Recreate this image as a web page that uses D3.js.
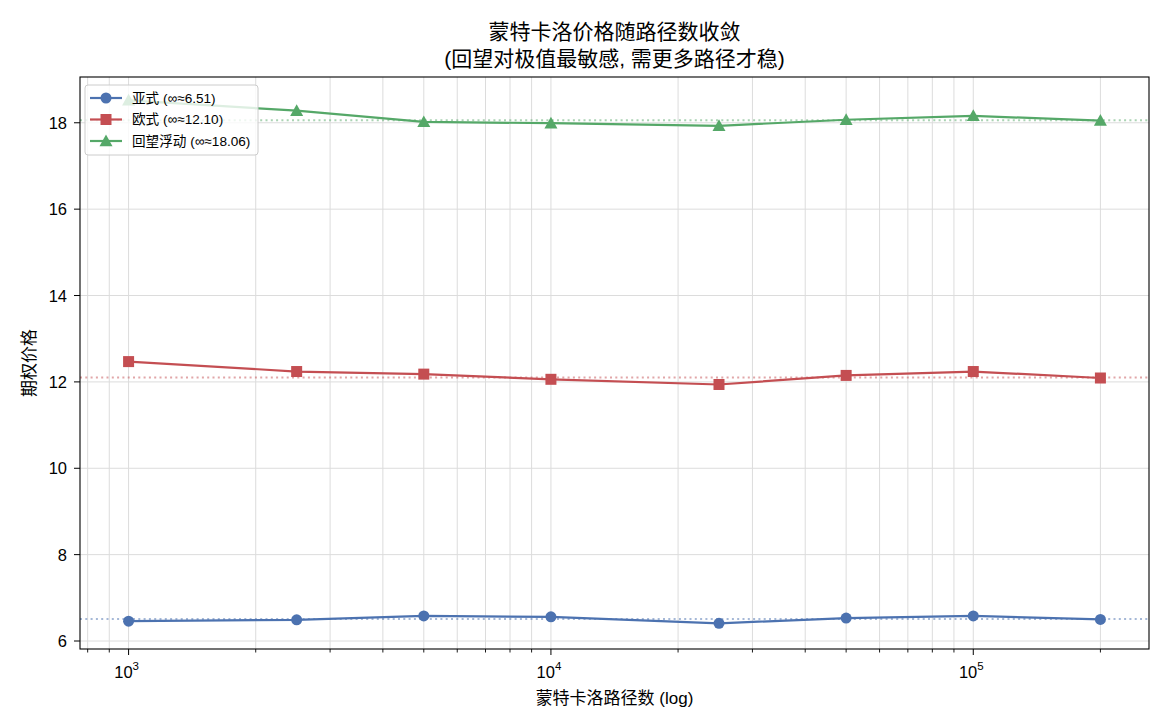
<!DOCTYPE html>
<html>
<head>
<meta charset="utf-8">
<script src="https://cdn.jsdelivr.net/npm/d3@7"></script>
<style>
  body { margin: 0; background: #fff; }
  text { font-family: "Liberation Sans", Arial, "Noto Sans CJK SC", sans-serif; }
</style>
</head>
<body>
<div id="chart"></div>
<script>
// path counts and prices
const paths = [1000, 2500, 5000, 10000, 25000, 50000, 100000, 200000];
const asianPrices = [6.46, 6.49, 6.58, 6.56, 6.41, 6.53, 6.58, 6.50];
const euroPrices = [12.47, 12.24, 12.18, 12.06, 11.94, 12.15, 12.24, 12.09];
const lookbackPrices = [18.52, 18.28, 18.02, 17.99, 17.93, 18.07, 18.16, 18.05];
const seriesNames = ["亚式 (∞≈6.51)", "欧式 (∞≈12.10)", "回望浮动 (∞≈18.06)"];
const limitValues = [6.51, 12.10, 18.06];
const seriesColors = ["#4c72b0", "#c44e52", "#55a868"];
const seriesMarkers = ["circle", "square", "triangle"];
const yTicks = [6, 8, 10, 12, 14, 16, 18];
const xMajorTicks = [1000, 10000, 100000];

const width = 1170, height = 728;
const margin = { left: 80, right: 21, top: 77, bottom: 79 };

const svg = d3.select("#chart").append("svg")
    .attr("width", width)
    .attr("height", height);

// log axis with matplotlib style 5% padding
const lo = Math.log10(d3.min(paths)), hi = Math.log10(d3.max(paths));
const pad = (hi - lo) * 0.05;
const x = d3.scaleLog()
    .domain([Math.pow(10, lo - pad), Math.pow(10, hi + pad)])
    .range([margin.left, width - margin.right]);

const y = d3.scaleLinear()
    .domain([5.815, 19.06])
    .range([height - margin.bottom, margin.top]);

const x0 = margin.left, x1 = width - margin.right;
const y0 = height - margin.bottom, y1 = margin.top;

// minor ticks for the log axis
const minorTicks = [];
for (let e = 2; e <= 5; e++) {
    for (let m = 2; m <= 9; m++) {
        const v = m * Math.pow(10, e);
        if (v > x.domain()[0] && v < x.domain()[1]) minorTicks.push(v);
    }
}

// grid
const grid = svg.append("g").attr("class", "grid");
grid.selectAll(".xminor")
    .data(minorTicks.concat(xMajorTicks))
    .enter()
    .append("line")
    .attr("x1", d => x(d)).attr("x2", d => x(d))
    .attr("y1", y0).attr("y2", y1)
    .attr("stroke", "#dcdcdc")
    .attr("stroke-width", 1);
grid.selectAll(".ymajor")
    .data(yTicks)
    .enter()
    .append("line")
    .attr("x1", x0).attr("x2", x1)
    .attr("y1", d => y(d)).attr("y2", d => y(d))
    .attr("stroke", "#dcdcdc")
    .attr("stroke-width", 1);

const allSeries = [asianPrices, euroPrices, lookbackPrices];

// dotted reference lines for the converged values
svg.selectAll(".ref")
    .data(limitValues)
    .enter()
    .append("line")
    .attr("class", "ref")
    .attr("x1", x0).attr("x2", x1)
    .attr("y1", d => y(d)).attr("y2", d => y(d))
    .attr("stroke", (d, i) => seriesColors[i])
    .attr("stroke-opacity", 0.5)
    .attr("stroke-width", 2)
    .attr("stroke-dasharray", "2 3.3");

const line = d3.line()
    .x((d, i) => x(paths[i]))
    .y(d => y(d));

function drawMarker(g, kind, cx, cy, color, k = 1) {
    if (kind === "circle") {
        g.append("circle").attr("cx", cx).attr("cy", cy).attr("r", 5.5 * k).attr("fill", color);
    } else if (kind === "square") {
        g.append("rect").attr("x", cx - 5.5 * k).attr("y", cy - 5.5 * k)
            .attr("width", 11 * k).attr("height", 11 * k).attr("fill", color);
    } else {
        const s = 6.5 * k;
        g.append("path")
            .attr("d", `M${cx},${cy - s}L${cx + s},${cy + s * 0.8}L${cx - s},${cy + s * 0.8}Z`)
            .attr("fill", color);
    }
}

const plot = svg.append("g");
allSeries.forEach((vals, si) => {
    const g = plot.append("g");
    g.append("path")
        .datum(vals)
        .attr("d", line)
        .attr("fill", "none")
        .attr("stroke", seriesColors[si])
        .attr("stroke-width", 2.2);
    vals.forEach((v, i) => drawMarker(g, seriesMarkers[si], x(paths[i]), y(v), seriesColors[si]));
});

// frame
svg.append("rect")
    .attr("x", x0).attr("y", y1)
    .attr("width", x1 - x0).attr("height", y0 - y1)
    .attr("fill", "none")
    .attr("stroke", "#000")
    .attr("stroke-width", 1.1);

// x ticks
const xt = svg.append("g");
xt.selectAll(".tmin")
    .data(minorTicks)
    .enter()
    .append("line")
    .attr("x1", d => x(d)).attr("x2", d => x(d))
    .attr("y1", y0).attr("y2", y0 + 3.5)
    .attr("stroke", "#000").attr("stroke-width", 0.9);
xt.selectAll(".tmaj")
    .data(xMajorTicks)
    .enter()
    .append("line")
    .attr("x1", d => x(d)).attr("x2", d => x(d))
    .attr("y1", y0).attr("y2", y0 + 6)
    .attr("stroke", "#000").attr("stroke-width", 1);
const xl = xt.selectAll(".tlab")
    .data(xMajorTicks)
    .enter()
    .append("text")
    .attr("x", d => x(d) - 2)
    .attr("y", y0 + 29)
    .attr("text-anchor", "middle")
    .attr("font-size", 16.5)
    .text("10");
xl.append("tspan")
    .attr("dy", -8)
    .attr("font-size", 11.5)
    .text(d => Math.round(Math.log10(d)));

// y ticks
const yt = svg.append("g");
yt.selectAll(".ty")
    .data(yTicks)
    .enter()
    .append("line")
    .attr("x1", x0 - 6).attr("x2", x0)
    .attr("y1", d => y(d)).attr("y2", d => y(d))
    .attr("stroke", "#000").attr("stroke-width", 1);
yt.selectAll(".tyl")
    .data(yTicks)
    .enter()
    .append("text")
    .attr("x", x0 - 13)
    .attr("y", d => y(d) + 6)
    .attr("text-anchor", "end")
    .attr("font-size", 16.5)
    .text(d => d);

// axis labels and title
svg.append("text")
    .attr("x", (x0 + x1) / 2)
    .attr("y", 704)
    .attr("text-anchor", "middle")
    .attr("font-size", 17)
    .text("蒙特卡洛路径数 (log)");
svg.append("text")
    .attr("transform", `translate(35, ${(y0 + y1) / 2}) rotate(-90)`)
    .attr("text-anchor", "middle")
    .attr("font-size", 17)
    .text("期权价格");
svg.append("text")
    .attr("x", (x0 + x1) / 2)
    .attr("y", 39)
    .attr("text-anchor", "middle")
    .attr("font-size", 21)
    .text("蒙特卡洛价格随路径数收敛");
svg.append("text")
    .attr("x", (x0 + x1) / 2)
    .attr("y", 66)
    .attr("text-anchor", "middle")
    .attr("font-size", 21)
    .text("(回望对极值最敏感, 需更多路径才稳)");

// legend
const legend = svg.append("g");
legend.append("rect")
    .attr("x", 85).attr("y", 85)
    .attr("width", 173).attr("height", 70)
    .attr("rx", 3)
    .attr("fill", "#fff")
    .attr("fill-opacity", 0.8)
    .attr("stroke", "#ccc");
seriesNames.forEach((name, i) => {
    const ly = 98 + i * 21.5;
    legend.append("line")
        .attr("x1", 90).attr("x2", 122)
        .attr("y1", ly).attr("y2", ly)
        .attr("stroke", seriesColors[i])
        .attr("stroke-width", 2.2);
    drawMarker(legend, seriesMarkers[i], 106, ly, seriesColors[i]);
    legend.append("text")
        .attr("x", 132)
        .attr("y", ly + 4.5)
        .attr("font-size", 13.6)
        .text(name);
});
</script>
</body>
</html>
